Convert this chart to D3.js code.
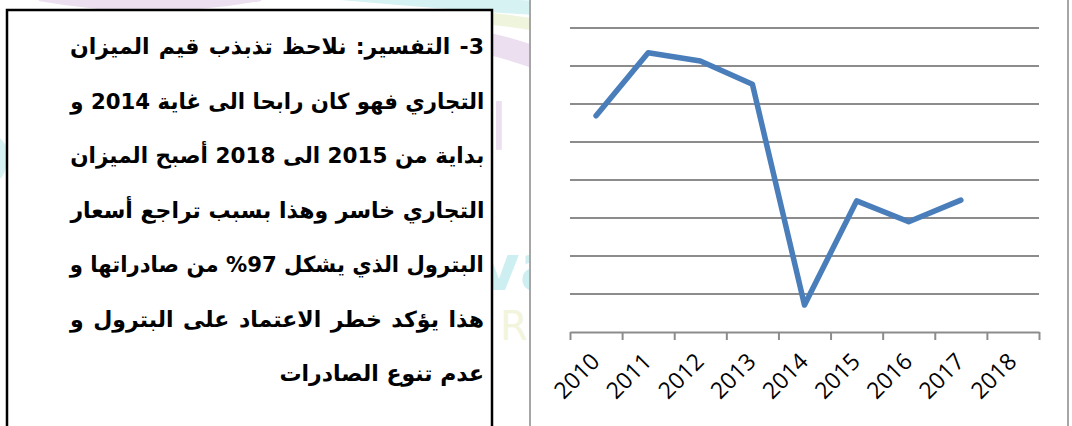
<!DOCTYPE html>
<html lang="ar">
<head>
<meta charset="UTF-8">
<title>الميزان التجاري</title>
<script src="https://d3js.org/d3.v7.min.js"></script>
<style>
  body { margin: 0; background: #fff; }
  #wrap { position: relative; width: 1072px; height: 426px; overflow: hidden; }
  #wrap svg { position: absolute; left: 0; top: 0; }
  .ln {
    position: absolute;
    right: 588px; /* right edge of the text at x = 484 */
    font-family: "DejaVu Sans", sans-serif;
    font-weight: bold;
    font-size: 22px;
    line-height: 30px;
    direction: rtl;
    white-space: nowrap;
    transform-origin: 100% 50%;
    color: #000;
  }
</style>
</head>
<body>
<div id="wrap"></div>
<script>
  // data
  const years = ["2010", "2011", "2012", "2013", "2014", "2015", "2016", "2017", "2018"];
  const balance = [5.69, 7.35, 7.13, 6.52, 0.71, 3.45, 2.90, 3.47, null];
  const gridValues = [1, 2, 3, 4, 5, 6, 7, 8];
  const textLines = [
    "3- التفسير: نلاحظ تذبذب قيم الميزان",
    "التجاري فهو كان رابحا الى غاية 2014 و",
    "بداية من 2015 الى 2018 أصبح الميزان",
    "التجاري خاسر وهذا  بسبب تراجع أسعار",
    "البترول الذي يشكل 97% من صادراتها و",
    "هذا يؤكد خطر الاعتماد على البترول و",
    "عدم تنوع  الصادرات"
  ];

  const W = 1072, H = 426;
  const wrap = d3.select("#wrap");
  const svg = wrap.append("svg").attr("width", W).attr("height", H);

  svg.append("rect").attr("width", W).attr("height", H).attr("fill", "#fff");

  // faint watermark behind the two frames
  const wm = svg.append("g").attr("fill", "none");
  wm.append("path").attr("d", "M40,-6 Q150,14 260,-6").attr("stroke", "#ebdff0").attr("stroke-width", 14);
  wm.append("path").attr("d", "M330,-8 Q460,4 570,10").attr("stroke", "#d6f2f2").attr("stroke-width", 14);
  wm.append("path").attr("d", "M460,16 Q520,20 570,32").attr("stroke", "#eff4dc").attr("stroke-width", 12);
  wm.append("path").attr("d", "M460,38 Q520,48 570,72").attr("stroke", "#ebdff0").attr("stroke-width", 22);
  wm.append("path").attr("d", "M-10,140 Q10,150 -5,175").attr("stroke", "#d6f2f2").attr("stroke-width", 14);
  wm.append("text").attr("x", 490).attr("y", 150).attr("font-family", "DejaVu Sans")
    .attr("font-size", 64).attr("fill", "#ecdff0").text("l");
  wm.append("text").attr("x", 478).attr("y", 290).attr("font-family", "DejaVu Sans").attr("font-weight", "bold")
    .attr("font-size", 64).attr("fill", "#cdeff2").text("va");
  wm.append("text").attr("x", 500).attr("y", 340).attr("font-family", "DejaVu Sans")
    .attr("font-size", 40).attr("fill", "#f2f5dc").text("R");

  // text box frame
  svg.append("rect")
    .attr("x", 7).attr("y", 10).attr("width", 485).attr("height", 440)
    .attr("fill", "#fff").attr("stroke", "#000").attr("stroke-width", 2.5);

  // chart frame
  svg.append("rect")
    .attr("x", 530).attr("y", -10).attr("width", 538).attr("height", 460)
    .attr("fill", "#fff").attr("stroke", "#a6a6a6").attr("stroke-width", 2);

  // scales
  const plotLeft = 570, plotRight = 1039, plotTop = 28, plotBottom = 332;
  const x = d3.scaleBand().domain(years).range([plotLeft, plotRight]);
  const xEdge = d3.scaleLinear().domain([0, years.length]).range([plotLeft, plotRight]);
  const y = d3.scaleLinear().domain([0, 8]).range([plotBottom, plotTop]);

  // gridlines
  svg.append("g").selectAll("line").data(gridValues).join("line")
    .attr("x1", plotLeft).attr("x2", plotRight)
    .attr("y1", d => y(d)).attr("y2", d => y(d))
    .attr("stroke", "#8c8c8c").attr("stroke-width", 2);

  // axis line with ticks at category edges
  const axisG = svg.append("g").attr("transform", `translate(0,${plotBottom})`)
    .call(d3.axisBottom(xEdge).tickValues(d3.range(years.length + 1)).tickSize(8).tickSizeOuter(0).tickFormat(""));
  axisG.selectAll("path, line").attr("stroke", "#8c8c8c").attr("stroke-width", 2);

  // rotated year labels
  const lab = svg.append("g").attr("transform", `translate(0,${plotBottom})`)
    .call(d3.axisBottom(x).tickSize(0));
  lab.select(".domain").remove();
  lab.selectAll("text")
    .attr("font-family", "'Open Sans', sans-serif")
    .attr("font-size", 23)
    .attr("fill", "#000")
    .attr("text-anchor", "end")
    .attr("x", 0).attr("y", 0).attr("dy", 0)
    .attr("transform", "translate(5,31) rotate(-45)");

  // line
  const pts = years.map((yr, i) => ({ yr, v: balance[i] }));
  const line = d3.line()
    .defined(d => d.v !== null)
    .x(d => x(d.yr) + x.bandwidth() / 2)
    .y(d => y(d.v));
  svg.append("path").datum(pts)
    .attr("d", line)
    .attr("fill", "none")
    .attr("stroke", "#4a7ebb")
    .attr("stroke-width", 5.5)
    .attr("stroke-linejoin", "round")
    .attr("stroke-linecap", "round");

  // explanation text, justified to 414px except the last line
  const textWidth = 414;
  wrap.selectAll("div.ln").data(textLines).join("div")
    .attr("class", "ln")
    .style("top", (d, i) => (32 + 54.5 * i) + "px")
    .text(d => d)
    .each(function (d, i) {
      if (i === textLines.length - 1) return;
      const w = this.getBoundingClientRect().width;
      const gaps = (d.match(/ /g) || []).length;
      if (w < textWidth) {
        d3.select(this).style("word-spacing", ((textWidth - w) / gaps) + "px");
      } else {
        d3.select(this).style("transform", `scaleX(${textWidth / w})`);
      }
    });
</script>
</body>
</html>
